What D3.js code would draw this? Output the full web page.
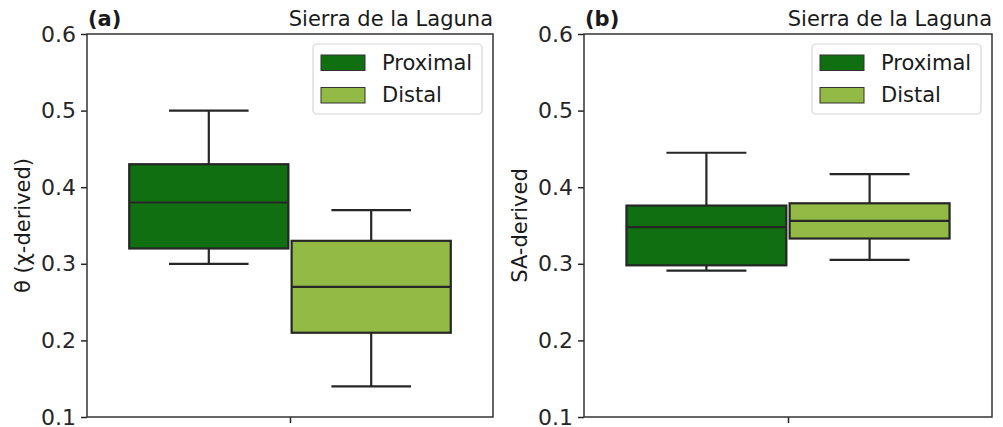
<!DOCTYPE html>
<html>
<head>
<meta charset="utf-8">
<script src="https://cdn.jsdelivr.net/npm/d3@7"></script>
<style>
  html, body { margin: 0; padding: 0; background: #ffffff; }
  svg { display: block; font-family: "DejaVu Sans", sans-serif; }
</style>
</head>
<body>
<svg id="chart" width="1003" height="427"></svg>
<script>
// Groups and their fill colours
const groups = ["Proximal", "Distal"];
const groupColors = ["#106f10", "#93ba45"];

// Box statistics per group: [lower whisker, Q1, median, Q3, upper whisker]
const thetaProximal = [0.30, 0.32, 0.38, 0.43, 0.50];
const thetaDistal   = [0.14, 0.21, 0.27, 0.33, 0.37];
const saProximal    = [0.291, 0.298, 0.348, 0.376, 0.445];
const saDistal      = [0.305, 0.333, 0.356, 0.379, 0.417];

// Axis ticks and labels
const yTicks = [0.1, 0.2, 0.3, 0.4, 0.5, 0.6];
const panelTags = ["(a)", "(b)"];
const panelTitles = ["Sierra de la Laguna", "Sierra de la Laguna"];
const yLabels = ["θ (χ-derived)", "SA-derived"];

const panels = [
  { tag: panelTags[0], title: panelTitles[0], ylabel: yLabels[0], stats: [thetaProximal, thetaDistal],
    left: 87, right: 493 },
  { tag: panelTags[1], title: panelTitles[1], ylabel: yLabels[1], stats: [saProximal, saDistal],
    left: 584, right: 992 }
];

const plotTop = 34, plotBottom = 417;
const lineColor = "#262626";
const svg = d3.select("#chart");

panels.forEach(p => {
  const g = svg.append("g");
  const x = d3.scaleLinear().domain([-0.5, 0.5]).range([p.left, p.right]);
  const y = d3.scaleLinear().domain([0.1, 0.6]).range([plotBottom, plotTop]);

  // hue offsets inside the single category slot
  const hueOffset = d3.scaleBand().domain(groups).range([-0.4, 0.4]);
  const boxW = hueOffset.bandwidth() * 0.98;

  groups.forEach((grp, i) => {
    const s = p.stats[i];
    const cx = hueOffset(grp) + hueOffset.bandwidth() / 2;
    const bg = g.append("g");
    // whiskers
    bg.append("line").attr("x1", x(cx)).attr("x2", x(cx)).attr("y1", y(s[3])).attr("y2", y(s[4]))
      .attr("stroke", lineColor).attr("stroke-width", 2.2);
    bg.append("line").attr("x1", x(cx)).attr("x2", x(cx)).attr("y1", y(s[1])).attr("y2", y(s[0]))
      .attr("stroke", lineColor).attr("stroke-width", 2.2);
    // caps
    [s[0], s[4]].forEach(v => {
      bg.append("line").attr("x1", x(cx - boxW / 4)).attr("x2", x(cx + boxW / 4))
        .attr("y1", y(v)).attr("y2", y(v)).attr("stroke", lineColor).attr("stroke-width", 2.2);
    });
    // box
    bg.append("rect").attr("x", x(cx - boxW / 2)).attr("width", x(cx + boxW / 2) - x(cx - boxW / 2))
      .attr("y", y(s[3])).attr("height", y(s[1]) - y(s[3]))
      .attr("fill", groupColors[i]).attr("stroke", lineColor).attr("stroke-width", 2.2);
    // median
    bg.append("line").attr("x1", x(cx - boxW / 2)).attr("x2", x(cx + boxW / 2))
      .attr("y1", y(s[2])).attr("y2", y(s[2])).attr("stroke", lineColor).attr("stroke-width", 2.2);
  });

  // y axis
  const yAxis = g.append("g").attr("transform", `translate(${p.left},0)`)
    .call(d3.axisLeft(y).tickValues(yTicks).tickFormat(d3.format(".1f")).tickSize(6).tickPadding(5));
  yAxis.select(".domain").remove();
  yAxis.selectAll("line").attr("stroke", lineColor).attr("stroke-width", 1.5);
  yAxis.selectAll("text").attr("font-size", 22).attr("fill", lineColor)
    .attr("font-family", "DejaVu Sans, sans-serif");

  // x axis: single unlabeled tick at the category centre
  const xAxis = g.append("g").attr("transform", `translate(0,${plotBottom})`)
    .call(d3.axisBottom(x).tickValues([0]).tickFormat("").tickSize(6));
  xAxis.select(".domain").remove();
  xAxis.selectAll("line").attr("stroke", lineColor).attr("stroke-width", 1.5);

  // frame
  g.append("rect").attr("x", p.left).attr("y", plotTop).attr("width", p.right - p.left)
    .attr("height", plotBottom - plotTop)
    .attr("fill", "none").attr("stroke", "#333333").attr("stroke-width", 1.5);

  // titles
  g.append("text").attr("x", p.left + 1).attr("y", 26).attr("font-size", 21).attr("font-weight", "bold")
    .attr("fill", "#1a1a1a").text(p.tag);
  g.append("text").attr("x", p.right).attr("y", 26).attr("font-size", 21).attr("text-anchor", "end")
    .attr("fill", "#1a1a1a").text(p.title);

  // y label
  g.append("text").attr("transform", `translate(${p.left - 64},${(plotTop + plotBottom) / 2}) rotate(-90)`)
    .attr("text-anchor", "middle").attr("dy", "0.35em").attr("font-size", 21).attr("fill", "#1a1a1a")
    .text(p.ylabel);

  // legend
  const lx = p.right - 180, ly = 44;
  const lg = g.append("g").attr("transform", `translate(${lx},${ly})`);
  lg.append("rect").attr("width", 169).attr("height", 70).attr("rx", 4)
    .attr("fill", "#ffffff").attr("fill-opacity", 0.8).attr("stroke", "#d6d6d6").attr("stroke-width", 1.2);
  groups.forEach((grp, i) => {
    lg.append("rect").attr("x", 8).attr("y", 11 + i * 32.5).attr("width", 44).attr("height", 15.5)
      .attr("fill", groupColors[i]).attr("stroke", "#333333").attr("stroke-width", 1);
    lg.append("text").attr("x", 69).attr("y", 25.5 + i * 32.5).attr("font-size", 21)
      .attr("fill", "#1a1a1a").text(grp);
  });
});
</script>
</body>
</html>
